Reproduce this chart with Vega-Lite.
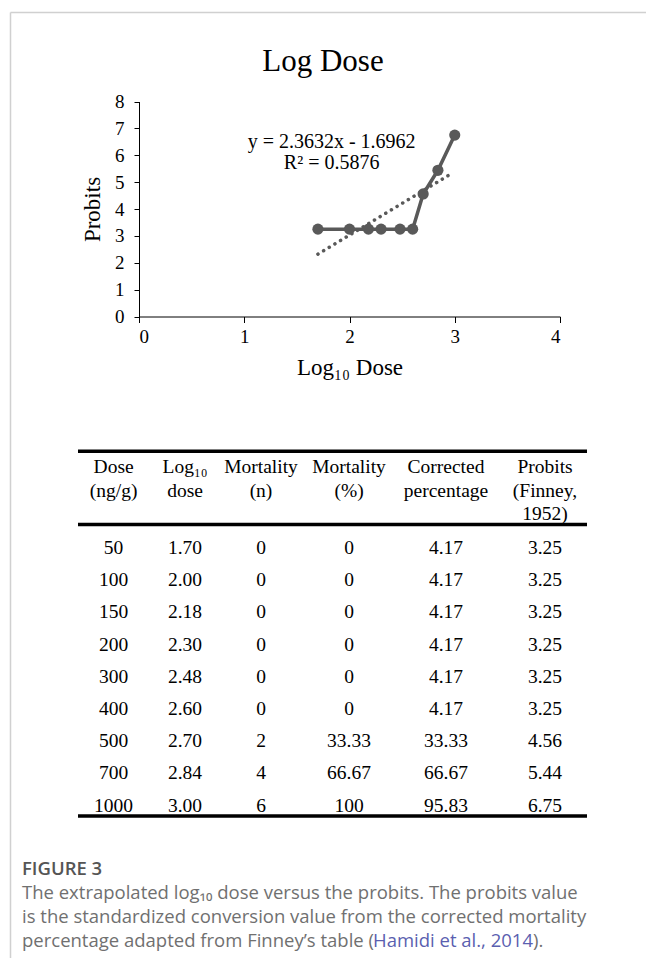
{
  "$schema": "https://vega.github.io/schema/vega-lite/v6.json",
  "width": 636,
  "height": 946,
  "autosize": {"type": "none"},
  "padding": {"left": 10, "top": 12, "right": 0, "bottom": 0},
  "background": "white",
  "config": {
    "view": {"stroke": null},
    "font": "Liberation Serif"
  },
  "title": {
    "text": "Log Dose",
    "font": "Liberation Serif",
    "fontSize": 31,
    "fontWeight": "normal",
    "color": "black",
    "anchor": "middle",
    "frame": "group",
    "offset": -66,
    "dx": -5
  },
  "datasets": {
    "rows": [
      {"dose": 50, "logdose": 1.70, "n": 0, "pct": 0, "corr": 4.17, "probit": 3.25},
      {"dose": 100, "logdose": 2.00, "n": 0, "pct": 0, "corr": 4.17, "probit": 3.25},
      {"dose": 150, "logdose": 2.18, "n": 0, "pct": 0, "corr": 4.17, "probit": 3.25},
      {"dose": 200, "logdose": 2.30, "n": 0, "pct": 0, "corr": 4.17, "probit": 3.25},
      {"dose": 300, "logdose": 2.48, "n": 0, "pct": 0, "corr": 4.17, "probit": 3.25},
      {"dose": 400, "logdose": 2.60, "n": 0, "pct": 0, "corr": 4.17, "probit": 3.25},
      {"dose": 500, "logdose": 2.70, "n": 2, "pct": 33.33, "corr": 33.33, "probit": 4.56},
      {"dose": 700, "logdose": 2.84, "n": 4, "pct": 66.67, "corr": 66.67, "probit": 5.44},
      {"dose": 1000, "logdose": 3.00, "n": 6, "pct": 100, "corr": 95.83, "probit": 6.75}
    ],
    "trend": [
      {"logdose": 1.70, "probit": 2.32},
      {"logdose": 2.97, "probit": 5.32}
    ],
    "header": [
      {"col": 1, "line": 1, "text": "Dose"},
      {"col": 1, "line": 2, "text": "(ng/g)"},
      {"col": 2, "line": 1, "text": "Log₁₀"},
      {"col": 2, "line": 2, "text": "dose"},
      {"col": 3, "line": 1, "text": "Mortality"},
      {"col": 3, "line": 2, "text": "(n)"},
      {"col": 4, "line": 1, "text": "Mortality"},
      {"col": 4, "line": 2, "text": "(%)"},
      {"col": 5, "line": 1, "text": "Corrected"},
      {"col": 5, "line": 2, "text": "percentage"},
      {"col": 6, "line": 1, "text": "Probits"},
      {"col": 6, "line": 2, "text": "(Finney,"},
      {"col": 6, "line": 3, "text": "1952)"}
    ],
    "caption": [
      {"line": 1, "text": "The extrapolated log₁₀ dose versus the probits. The probits value"},
      {"line": 2, "text": "is the standardized conversion value from the corrected mortality"}
    ],
    "one": [{}]
  },
  "layer": [
    {
      "layer": [
        {
          "data": {"name": "trend"},
          "mark": {"type": "line", "color": "#595959", "strokeWidth": 3.5, "strokeDash": [0.1, 6.5], "strokeCap": "round"},
          "encoding": {
            "x": {
              "field": "logdose", "type": "quantitative",
              "scale": {"domain": [0, 4], "range": [129, 550], "nice": false, "zero": false},
              "axis": {
                "orient": "bottom", "offset": -641.5, "values": [0, 1, 2, 3, 4], "format": "d",
                "title": "Log₁₀ Dose", "grid": false,
                "domainColor": "black", "domainWidth": 1, "tickColor": "black", "tickWidth": 1, "tickSize": 6,
                "labelFont": "Liberation Serif", "labelFontSize": 19, "labelColor": "black", "labelPadding": 5,
                "titleFont": "Liberation Serif", "titleFontSize": 23, "titleFontWeight": "normal", "titleColor": "black", "titlePadding": 10
              }
            },
            "y": {
              "field": "probit", "type": "quantitative",
              "scale": {"domain": [0, 8], "range": [304.5, 89.5], "nice": false, "zero": false},
              "axis": {
                "orient": "left", "offset": -129, "values": [0, 1, 2, 3, 4, 5, 6, 7, 8], "format": "d",
                "title": "Probits", "grid": false,
                "domainColor": "black", "domainWidth": 1, "tickColor": "black", "tickWidth": 1, "tickSize": 5,
                "labelFont": "Liberation Serif", "labelFontSize": 19, "labelColor": "black", "labelPadding": 10,
                "titleFont": "Liberation Serif", "titleFontSize": 23, "titleFontWeight": "normal", "titleColor": "black", "titlePadding": 10
              }
            }
          }
        },
        {
          "data": {"name": "rows"},
          "mark": {"type": "line", "color": "#595959", "strokeWidth": 3.5},
          "encoding": {
            "x": {"field": "logdose", "type": "quantitative"},
            "y": {"field": "probit", "type": "quantitative"}
          }
        },
        {
          "data": {"name": "rows"},
          "mark": {"type": "point", "filled": true, "color": "#595959", "opacity": 1, "size": 125},
          "encoding": {
            "x": {"field": "logdose", "type": "quantitative"},
            "y": {"field": "probit", "type": "quantitative"}
          }
        },
        {
          "data": {"name": "one"},
          "mark": {"type": "text", "font": "Liberation Serif", "fontSize": 20, "color": "black", "align": "center", "baseline": "middle"},
          "encoding": {
            "x": {"datum": 1.83, "type": "quantitative"},
            "y": {"datum": 6.5, "type": "quantitative"},
            "text": {"value": "y = 2.3632x - 1.6962"}
          }
        },
        {
          "data": {"name": "one"},
          "mark": {"type": "text", "font": "Liberation Serif", "fontSize": 20, "color": "black", "align": "center", "baseline": "middle"},
          "encoding": {
            "x": {"datum": 1.83, "type": "quantitative"},
            "y": {"datum": 5.7, "type": "quantitative"},
            "text": {"value": "R² = 0.5876"}
          }
        }
      ]
    },
    {
      "layer": [
        {
          "data": {"name": "header"},
          "mark": {"type": "text", "font": "Liberation Serif", "fontSize": 19.5, "color": "black", "align": "center", "baseline": "middle"},
          "encoding": {
            "x": {
              "field": "col", "type": "quantitative",
              "scale": {"domain": [0.5, 1, 2, 3, 4, 5, 6, 6.5], "range": [68, 103.6, 175, 251, 339, 436, 535, 577], "nice": false, "zero": false},
              "axis": null
            },
            "y": {
              "field": "line", "type": "quantitative",
              "scale": {"domain": [1, 3], "range": [455, 502], "nice": false, "zero": false},
              "axis": null
            },
            "text": {"field": "text", "type": "nominal"}
          }
        },
        {
          "data": {"name": "one"},
          "mark": {"type": "rule", "color": "black", "strokeWidth": 3.5},
          "encoding": {
            "x": {"datum": 0.5, "type": "quantitative"},
            "x2": {"datum": 6.5},
            "y": {"datum": 0.333, "type": "quantitative"}
          }
        },
        {
          "data": {"name": "one"},
          "mark": {"type": "rule", "color": "black", "strokeWidth": 3.5},
          "encoding": {
            "x": {"datum": 0.5, "type": "quantitative"},
            "x2": {"datum": 6.5},
            "y": {"datum": 3.45, "type": "quantitative"}
          }
        },
        {
          "data": {"name": "one"},
          "mark": {"type": "rule", "color": "black", "strokeWidth": 3.5},
          "encoding": {
            "x": {"datum": 0.5, "type": "quantitative"},
            "x2": {"datum": 6.5},
            "y": {"datum": 15.85, "type": "quantitative"}
          }
        }
      ]
    },
    {
      "data": {"name": "rows"},
      "encoding": {
        "y": {"field": "dose", "type": "ordinal", "scale": {"type": "point", "range": [536, 793.6], "padding": 0}, "axis": null}
      },
      "layer": [
        {
          "mark": {"type": "text", "font": "Liberation Serif", "fontSize": 19.5, "color": "black", "align": "center", "baseline": "middle"},
          "encoding": {
            "x": {
              "datum": 1, "type": "quantitative",
              "scale": {"domain": [0.5, 1, 2, 3, 4, 5, 6, 6.5], "range": [68, 103.6, 175, 251, 339, 436, 535, 577], "nice": false, "zero": false},
              "axis": null
            },
            "text": {"field": "dose", "type": "quantitative", "format": "d"}
          }
        },
        {
          "mark": {"type": "text", "font": "Liberation Serif", "fontSize": 19.5, "color": "black", "align": "center", "baseline": "middle"},
          "encoding": {
            "x": {"datum": 2, "type": "quantitative"},
            "text": {"field": "logdose", "type": "quantitative", "format": ".2f"}
          }
        },
        {
          "mark": {"type": "text", "font": "Liberation Serif", "fontSize": 19.5, "color": "black", "align": "center", "baseline": "middle"},
          "encoding": {
            "x": {"datum": 3, "type": "quantitative"},
            "text": {"field": "n", "type": "quantitative", "format": "d"}
          }
        },
        {
          "mark": {"type": "text", "font": "Liberation Serif", "fontSize": 19.5, "color": "black", "align": "center", "baseline": "middle"},
          "encoding": {
            "x": {"datum": 4, "type": "quantitative"},
            "text": {"field": "pct", "type": "quantitative", "format": "~f"}
          }
        },
        {
          "mark": {"type": "text", "font": "Liberation Serif", "fontSize": 19.5, "color": "black", "align": "center", "baseline": "middle"},
          "encoding": {
            "x": {"datum": 5, "type": "quantitative"},
            "text": {"field": "corr", "type": "quantitative", "format": ".2f"}
          }
        },
        {
          "mark": {"type": "text", "font": "Liberation Serif", "fontSize": 19.5, "color": "black", "align": "center", "baseline": "middle"},
          "encoding": {
            "x": {"datum": 6, "type": "quantitative"},
            "text": {"field": "probit", "type": "quantitative", "format": ".2f"}
          }
        }
      ]
    },
    {
      "layer": [
        {
          "data": {"name": "one"},
          "mark": {"type": "text", "font": "Open Sans", "fontSize": 18.5, "fontWeight": 600, "color": "#555555", "align": "left", "baseline": "middle"},
          "encoding": {
            "x": {"datum": 0, "type": "quantitative", "scale": {"domain": [0, 1], "range": [12, 616], "nice": false, "zero": false}, "axis": null},
            "y": {"datum": 0, "type": "quantitative", "scale": {"domain": [1, 3], "range": [881, 929], "nice": false, "zero": false}, "axis": null},
            "text": {"value": "FIGURE 3"}
          }
        },
        {
          "data": {"name": "caption"},
          "mark": {"type": "text", "font": "Open Sans", "fontSize": 18.5, "color": "#707070", "align": "left", "baseline": "middle"},
          "encoding": {
            "x": {"datum": 0, "type": "quantitative"},
            "y": {"field": "line", "type": "quantitative"},
            "text": {"field": "text", "type": "nominal"}
          }
        },
        {
          "data": {"name": "one"},
          "mark": {"type": "text", "font": "Open Sans", "fontSize": 18.5, "color": "#707070", "align": "left", "baseline": "middle"},
          "encoding": {
            "x": {"datum": 0, "type": "quantitative"},
            "y": {"datum": 3, "type": "quantitative"},
            "text": {"value": "percentage adapted from Finney’s table ("}
          }
        },
        {
          "data": {"name": "one"},
          "mark": {"type": "text", "font": "Open Sans", "fontSize": 18.5, "color": "#5b5fb0", "align": "left", "baseline": "middle", "dx": 351},
          "encoding": {
            "x": {"datum": 0, "type": "quantitative"},
            "y": {"datum": 3, "type": "quantitative"},
            "text": {"value": "Hamidi et al., 2014"}
          }
        },
        {
          "data": {"name": "one"},
          "mark": {"type": "text", "font": "Open Sans", "fontSize": 18.5, "color": "#707070", "align": "left", "baseline": "middle", "dx": 511},
          "encoding": {
            "x": {"datum": 0, "type": "quantitative"},
            "y": {"datum": 3, "type": "quantitative"},
            "text": {"value": ")."}
          }
        }
      ]
    },
    {
      "data": {"name": "one"},
      "mark": {"type": "point", "opacity": 0},
      "encoding": {
        "x": {
          "datum": 0, "type": "quantitative",
          "scale": {"domain": [0, 1], "range": [0, 636], "nice": false, "zero": false},
          "axis": {"orient": "top", "ticks": false, "labels": false, "title": null, "grid": false, "domainColor": "#d0d0d0", "domainWidth": 1.5}
        },
        "y": {
          "datum": 0, "type": "quantitative",
          "scale": {"domain": [0, 1], "range": [946, 0], "nice": false, "zero": false},
          "axis": {"orient": "left", "ticks": false, "labels": false, "title": null, "grid": false, "domainColor": "#d0d0d0", "domainWidth": 1.5}
        }
      }
    }
  ],
  "resolve": {
    "scale": {"x": "independent", "y": "independent"},
    "axis": {"x": "independent", "y": "independent"}
  }
}
